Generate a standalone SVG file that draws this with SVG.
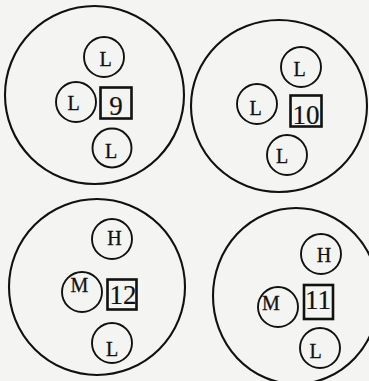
<svg xmlns="http://www.w3.org/2000/svg" width="369" height="381" viewBox="0 0 369 381">
<style>
.big{fill:none;stroke:#111;stroke-width:2.1}
.sm{fill:none;stroke:#111;stroke-width:1.9}
.box{fill:none;stroke:#111;stroke-width:2.6}
.t{font-family:"Liberation Serif","DejaVu Serif",serif;font-size:20px;fill:#111;stroke:#111;stroke-width:0.3;text-anchor:middle}
.d{font-family:"Liberation Serif","DejaVu Serif",serif;font-size:27px;fill:#111;stroke:#111;stroke-width:0.2;text-anchor:middle}
</style>
<rect width="369" height="381" fill="#f4f4f2"/>
<g id="connectors"/>
<g id="group-9">
<ellipse class="big" cx="94.5" cy="95" rx="89.5" ry="89"/>
<g id="g9-L1"><circle class="sm" cx="104" cy="57" r="20"/><text class="t" x="105.5" y="65.5">L</text></g>
<g id="g9-L2"><circle class="sm" cx="76" cy="102" r="20"/><text class="t" x="73.5" y="110">L</text></g>
<g id="g9-box"><rect class="box" x="100.5" y="87.5" width="31" height="31"/><text class="d" x="116" y="115">9</text></g>
<g id="g9-L3"><circle class="sm" cx="112" cy="148" r="19.5"/><text class="t" x="111" y="158">L</text></g>
</g>
<g id="group-10">
<ellipse class="big" cx="279" cy="106" rx="88" ry="86"/>
<g id="g10-L1"><circle class="sm" cx="301" cy="67" r="20"/><text class="t" x="299.5" y="75.5">L</text></g>
<g id="g10-L2"><circle class="sm" cx="257" cy="104" r="20"/><text class="t" x="255.5" y="114.5">L</text></g>
<g id="g10-box"><rect class="box" x="290.5" y="95.5" width="31" height="31"/><text class="d" x="306" y="124">10</text></g>
<g id="g10-L3"><circle class="sm" cx="287" cy="155" r="20"/><text class="t" x="282" y="163">L</text></g>
</g>
<g id="group-12">
<ellipse class="big" cx="97" cy="287" rx="88" ry="88"/>
<g id="g12-H"><circle class="sm" cx="112" cy="239" r="20"/><text class="t" x="114.5" y="245">H</text></g>
<g id="g12-M"><circle class="sm" cx="82" cy="292" r="20"/><text class="t" x="79.5" y="292">M</text></g>
<g id="g12-box"><rect class="box" x="107.5" y="279.5" width="29" height="30"/><text class="d" x="123" y="304">12</text></g>
<g id="g12-L"><circle class="sm" cx="112" cy="343" r="20"/><text class="t" x="112" y="356">L</text></g>
</g>
<g id="group-11">
<ellipse class="big" cx="296" cy="296" rx="83" ry="88"/>
<g id="g11-H"><circle class="sm" cx="321" cy="254" r="20"/><text class="t" x="324" y="261.5">H</text></g>
<g id="g11-M"><circle class="sm" cx="278" cy="307" r="20"/><text class="t" x="271" y="310">M</text></g>
<g id="g11-box"><rect class="box" x="304" y="285" width="29" height="34"/><text class="d" x="318" y="309">11</text></g>
<g id="g11-L"><circle class="sm" cx="320" cy="348" r="20"/><text class="t" x="315.5" y="357.5">L</text></g>
</g>
</svg>
